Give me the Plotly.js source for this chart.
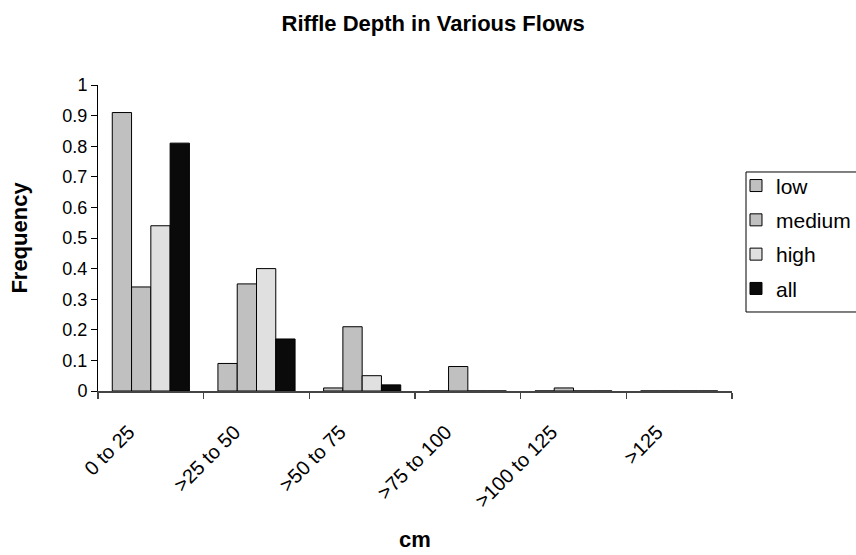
<!DOCTYPE html>
<html>
<head>
<meta charset="utf-8">
<script src="https://cdn.plot.ly/plotly-3.0.1.min.js"></script>
<style>html,body{margin:0;padding:0;background:#fff;}#chart{width:856px;height:555px;}</style>
</head>
<body>
<div id="chart"></div>
<script>
const categories = ["0 to 25", ">25 to 50", ">50 to 75", ">75 to 100", ">100 to 125", ">125"];
const lowValues    = [0.91, 0.09, 0.01, 0, 0, 0];
const mediumValues = [0.34, 0.35, 0.21, 0.08, 0.01, 0];
const highValues   = [0.54, 0.40, 0.05, 0, 0, 0];
const allValues    = [0.81, 0.17, 0.02, 0, 0, 0];
const seriesNames  = ["low", "medium", "high", "all"];
const yTickVals    = [0, 0.1, 0.2, 0.3, 0.4, 0.5, 0.6, 0.7, 0.8, 0.9, 1];
const yTickText    = ["0", "0.1", "0.2", "0.3", "0.4", "0.5", "0.6", "0.7", "0.8", "0.9", "1"];

const colors = ["#C0C0C0", "#C0C0C0", "#E0E0E0", "#0A0A0A"];
const seriesValues = [lowValues, mediumValues, highValues, allValues];
const FONT = "Liberation Sans, Arial, sans-serif";

const traces = seriesNames.map((name, i) => ({
  type: "bar",
  name: name,
  x: categories,
  y: seriesValues[i],
  legendgroup: name,
  marker: {color: colors[i], line: {color: "#000", width: 1}},
  hoverinfo: "skip"
}));

const layout = {
  width: 856, height: 555,
  paper_bgcolor: "#fff", plot_bgcolor: "#fff",
  margin: {l: 98, r: 124, t: 85, b: 164, autoexpand: false},
  font: {family: FONT, color: "#000", size: 18},
  title: {text: "<b>Riffle Depth in Various Flows</b>", x: 0.506, xref: "container", xanchor: "center",
          y: 0.958, yref: "container", yanchor: "middle",
          font: {family: FONT, size: 22, color: "#000"}},
  barmode: "group",
  bargap: 0.27,
  bargroupgap: 0,
  showlegend: true,
  legend: {x: 1.0063, xanchor: "left", y: 0.502, yanchor: "middle",
           borderwidth: 0, bgcolor: "rgba(0,0,0,0)",
           font: {family: FONT, size: 21, color: "#000"},
           traceorder: "grouped", tracegroupgap: 4},
  shapes: [{type: "rect", xref: "paper", yref: "paper",
            x0: 1.0221, x1: 1.4, y0: 0.2582, y1: 0.7157,
            line: {color: "#000", width: 1}, fillcolor: "rgba(0,0,0,0)", layer: "above"}],
  xaxis: {
    type: "category",
    tickson: "boundaries",
    ticks: "outside", ticklen: 6, tickcolor: "#444", tickwidth: 1.5,
    showline: true, linecolor: "#444", linewidth: 1.5,
    showgrid: false, zeroline: false,
    tickangle: -45,
    ticklabelshift: -22, ticklabelstandoff: 20,
    tickfont: {family: FONT, size: 20, color: "#000"},
    title: {text: "<b>cm</b>", font: {family: FONT, size: 22, color: "#000"}, standoff: 21},
    automargin: false
  },
  yaxis: {
    range: [0, 1],
    tickvals: yTickVals, ticktext: yTickText,
    ticks: "outside", ticklen: 6, tickcolor: "#000", tickwidth: 1,
    showline: true, linecolor: "#000", linewidth: 1,
    showgrid: false, zeroline: false,
    tickfont: {family: FONT, size: 18, color: "#000"},
    title: {text: "<b>Frequency</b>", font: {family: FONT, size: 22, color: "#000"}, standoff: 28},
    automargin: false
  }
};

Plotly.newPlot("chart", traces, layout, {displayModeBar: false, staticPlot: true});
</script>
</body>
</html>
